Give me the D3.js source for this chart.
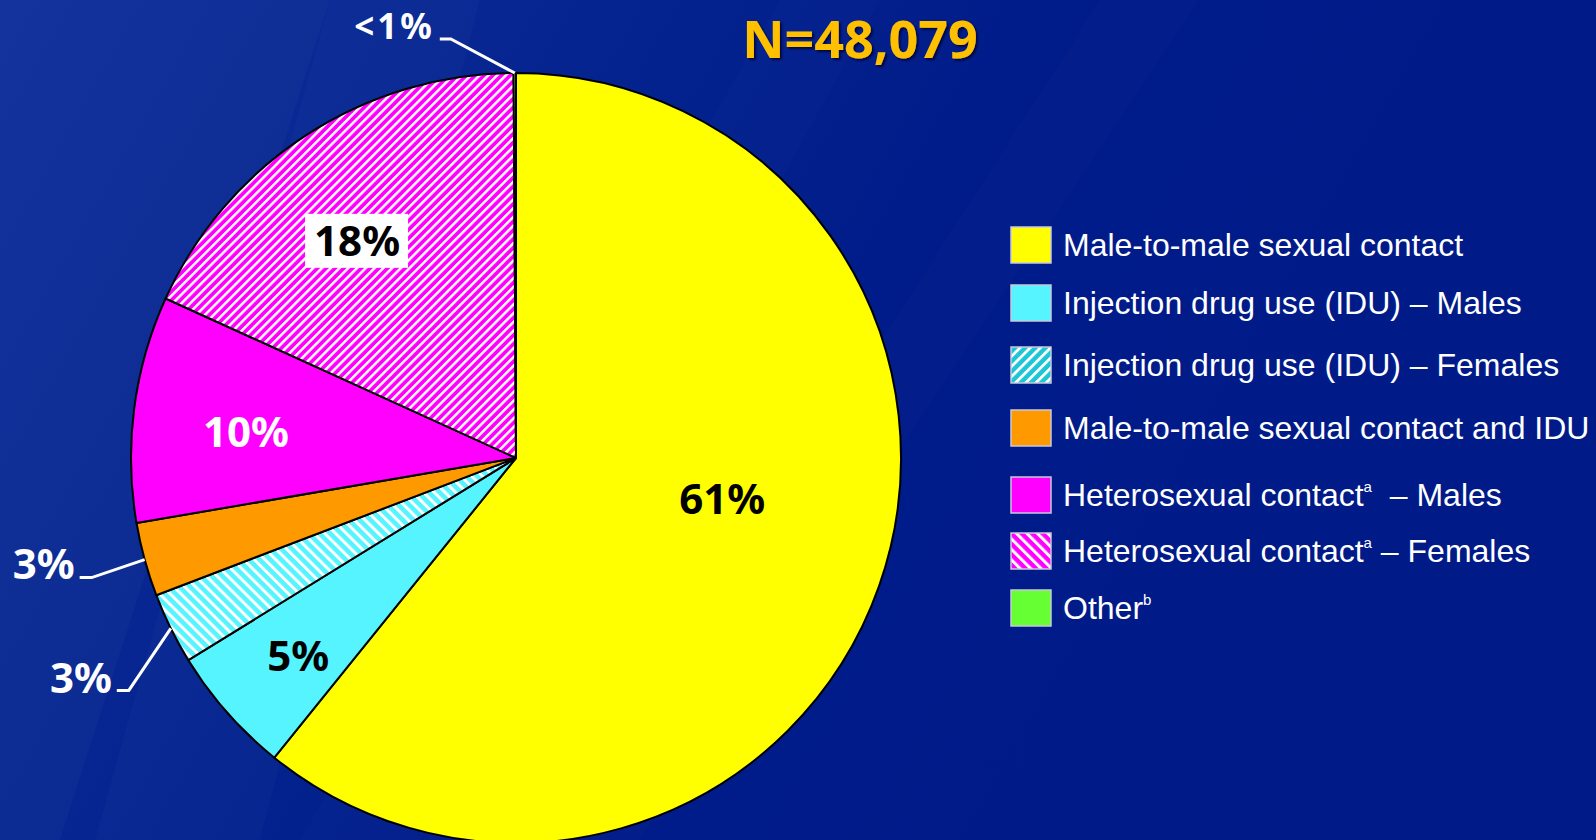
<!DOCTYPE html>
<html>
<head>
<meta charset="utf-8">
<script src="https://cdn.jsdelivr.net/npm/d3@7"></script>
<style>
  html, body { margin: 0; padding: 0; background: #001c8a; }
  svg { display: block; }
  text { white-space: pre; }
</style>
</head>
<body>
<div id="chart"></div>
<script>
// transmission categories, in pie order (clockwise from 12 o'clock)
var categories = [
	"Male-to-male sexual contact",
	"Injection drug use (IDU) \u2013 Males",
	"Injection drug use (IDU) \u2013 Females",
	"Male-to-male sexual contact and IDU",
	"Heterosexual contact",
	"Heterosexual contact",
	"Other"
];
var legendSup = ["", "", "", "", "a", "a", "b"];
var legendTail = ["", "", "", "", "  \u2013 Males", " \u2013 Females", ""];

// share of diagnoses, percent
var shares = [60.8, 5.4, 3.0, 3.1, 9.5, 18.1, 0.1];
var shareLabels = ["61%", "5%", "3%", "3%", "10%", "18%", "<1%"];
var totalN = "N=48,079";

var fills = ["#ffff00", "#55f4ff", "url(#pie-idu-f)", "#ff9900", "#ff00ff", "url(#pie-het-f)", "#66ff33"];
var legendFills = ["#ffff00", "#55f4ff", "url(#leg-idu-f)", "#ff9900", "#ff00ff", "url(#leg-het-f)", "#66ff33"];

var width = 1596, height = 840;
var cx = 516, cy = 458, radius = 385;

var svg = d3.select("#chart").append("svg")
	.attr("width", width)
	.attr("height", height);

var defs = svg.append("defs");

// background
var bg = defs.append("linearGradient").attr("id", "bg")
	.attr("x1", "0").attr("y1", "0").attr("x2", "1").attr("y2", "0.3");
bg.append("stop").attr("offset", "0").attr("stop-color", "#0f2f9a");
bg.append("stop").attr("offset", "0.35").attr("stop-color", "#05248f");
bg.append("stop").attr("offset", "0.6").attr("stop-color", "#001c8a");
bg.append("stop").attr("offset", "1").attr("stop-color", "#001b88");

var makeHatch = function(id, base, stripe, period, stripeW, angle) {
	var p = defs.append("pattern").attr("id", id)
		.attr("patternUnits", "userSpaceOnUse")
		.attr("width", period).attr("height", period)
		.attr("patternTransform", "rotate(" + angle + ")");
	p.append("rect").attr("width", period).attr("height", period).attr("fill", base);
	p.append("rect").attr("width", stripeW).attr("height", period).attr("fill", stripe);
};
makeHatch("pie-het-f", "#ff00ff", "#ffffff", 6.2, 2.5, 45);
makeHatch("pie-idu-f", "#55f4ff", "#ffffff", 7.6, 3.0, -45);
makeHatch("leg-idu-f", "#1cc6d6", "#ffffff", 7.2, 2.8, 45);
makeHatch("leg-het-f", "#ff00ff", "#ffffff", 7.4, 3.0, -45);

var shadow = defs.append("filter").attr("id", "shadow")
	.attr("x", "-10%").attr("y", "-20%").attr("width", "130%").attr("height", "150%");
shadow.append("feDropShadow").attr("dx", 2).attr("dy", 2).attr("stdDeviation", 1.2)
	.attr("flood-color", "#000033").attr("flood-opacity", 0.8);

svg.append("rect").attr("width", width).attr("height", height).attr("fill", "url(#bg)");
// faint diagonal streaks of the slide template
svg.append("path")
	.attr("d", "M0,0 L330,0 L60,840 L0,840 Z")
	.attr("fill", "#ffffff").attr("opacity", 0.025);
svg.append("path")
	.attr("d", "M95,840 L330,0 L480,0 L260,840 Z")
	.attr("fill", "#ffffff").attr("opacity", 0.02);
svg.append("path")
	.attr("d", "M780,0 L880,0 L420,840 L300,840 Z")
	.attr("fill", "#ffffff").attr("opacity", 0.012);
svg.append("path")
	.attr("d", "M1100,0 L1200,0 L640,840 L560,840 Z")
	.attr("fill", "#ffffff").attr("opacity", 0.01);

// pie
var pie = d3.pie().value(function(d) { return d; }).sort(null);
var arc = d3.arc().innerRadius(0).outerRadius(radius);
var arcs = pie(shares);

var g = svg.append("g").attr("transform", "translate(" + cx + "," + cy + ")");

g.selectAll("path.slice").data(arcs).enter()
	.append("path")
	.attr("class", "slice")
	.attr("d", arc)
	.attr("fill", function(d, i) { return fills[i]; })
	.attr("stroke", "#000")
	.attr("stroke-width", 2)
	.attr("stroke-linejoin", "round");

// inside labels: position as (fraction of radius, angle in degrees)
var insideLayout = [
	{ i: 0, r: 0.546, a: 101.3, color: "#000" },
	{ i: 1, r: 0.764, a: 227.8, color: "#000" },
	{ i: 4, r: 0.705, a: 275.6, color: "#fff" },
	{ i: 5, r: 0.699, a: 323.8, color: "#000", box: true }
];
var polar = function(r, deg) {
	var t = deg * Math.PI / 180;
	return [r * Math.sin(t), -r * Math.cos(t)];
};
var fontPct = "'Noto Sans', 'Open Sans', sans-serif";

insideLayout.forEach(function(l) {
	var p = polar(l.r * radius, l.a);
	if (l.box) {
		g.append("rect")
			.attr("x", p[0] - 52).attr("y", p[1] - 27)
			.attr("width", 103).attr("height", 54)
			.attr("fill", "#fff");
	}
	g.append("text")
		.attr("x", p[0]).attr("y", p[1] + 15)
		.attr("text-anchor", "middle")
		.attr("font-family", fontPct)
		.attr("font-weight", "bold")
		.attr("font-size", 42)
		.attr("fill", l.color)
		.text(shareLabels[l.i]);
});

// outside labels with leader lines: elbow offset from the arc edge
var outsideLayout = [
	{ i: 2, dx: -42, dy: 62, run: 12, size: 42, ls: 0, dyText: 3 },
	{ i: 3, dx: -53, dy: 18, run: 12, size: 42, ls: 0, dyText: 1 },
	{ i: 6, dx: -64, dy: -34, run: 11, size: 35, ls: 3, dyText: 0 }
];
outsideLayout.forEach(function(l) {
	var d = arcs[l.i];
	var mid = (d.startAngle + d.endAngle) / 2 * 180 / Math.PI;
	var edge = polar(radius, mid);
	var elbow = [edge[0] + l.dx, edge[1] + l.dy];
	var end = [elbow[0] - l.run, elbow[1]];
	g.append("polyline")
		.attr("points", [edge, elbow, end].map(function(p) { return p.join(","); }).join(" "))
		.attr("fill", "none")
		.attr("stroke", "#fff")
		.attr("stroke-width", 3);
	g.append("text")
		.attr("x", end[0] - 5).attr("y", end[1] + l.dyText)
		.attr("text-anchor", "end")
		.attr("font-family", fontPct)
		.attr("font-weight", "bold")
		.attr("font-size", l.size)
		.attr("letter-spacing", l.ls)
		.attr("fill", "#fff")
		.text(shareLabels[l.i]);
});

// N
svg.append("text")
	.attr("x", 860).attr("y", 58)
	.attr("text-anchor", "middle")
	.attr("font-family", fontPct)
	.attr("font-weight", "bold")
	.attr("font-size", 52)
	.attr("fill", "#ffc000")
	.attr("filter", "url(#shadow)")
	.text(totalN);

// legend
var legendY = [245, 303, 365, 428, 495, 551, 608];
var legend = svg.append("g").attr("class", "legend");
var rows = legend.selectAll("g.row").data(categories).enter()
	.append("g").attr("class", "row")
	.attr("transform", function(d, i) { return "translate(1011," + legendY[i] + ")"; });

rows.append("rect")
	.attr("x", 0).attr("y", -18)
	.attr("width", 40).attr("height", 36)
	.attr("fill", function(d, i) { return legendFills[i]; })
	.attr("stroke", "#c8c8dc")
	.attr("stroke-width", 1.5);

var txt = rows.append("text")
	.attr("x", 52).attr("y", 11)
	.attr("font-family", "'Liberation Sans', Arial, sans-serif")
	.attr("font-size", 32)
	.attr("fill", "#fff");
txt.append("tspan").text(function(d) { return d; });
txt.append("tspan")
	.attr("font-size", 15)
	.attr("dy", -14)
	.text(function(d, i) { return legendSup[i]; });
txt.append("tspan")
	.attr("dy", 14)
	.text(function(d, i) { return legendTail[i]; });
</script>
</body>
</html>
